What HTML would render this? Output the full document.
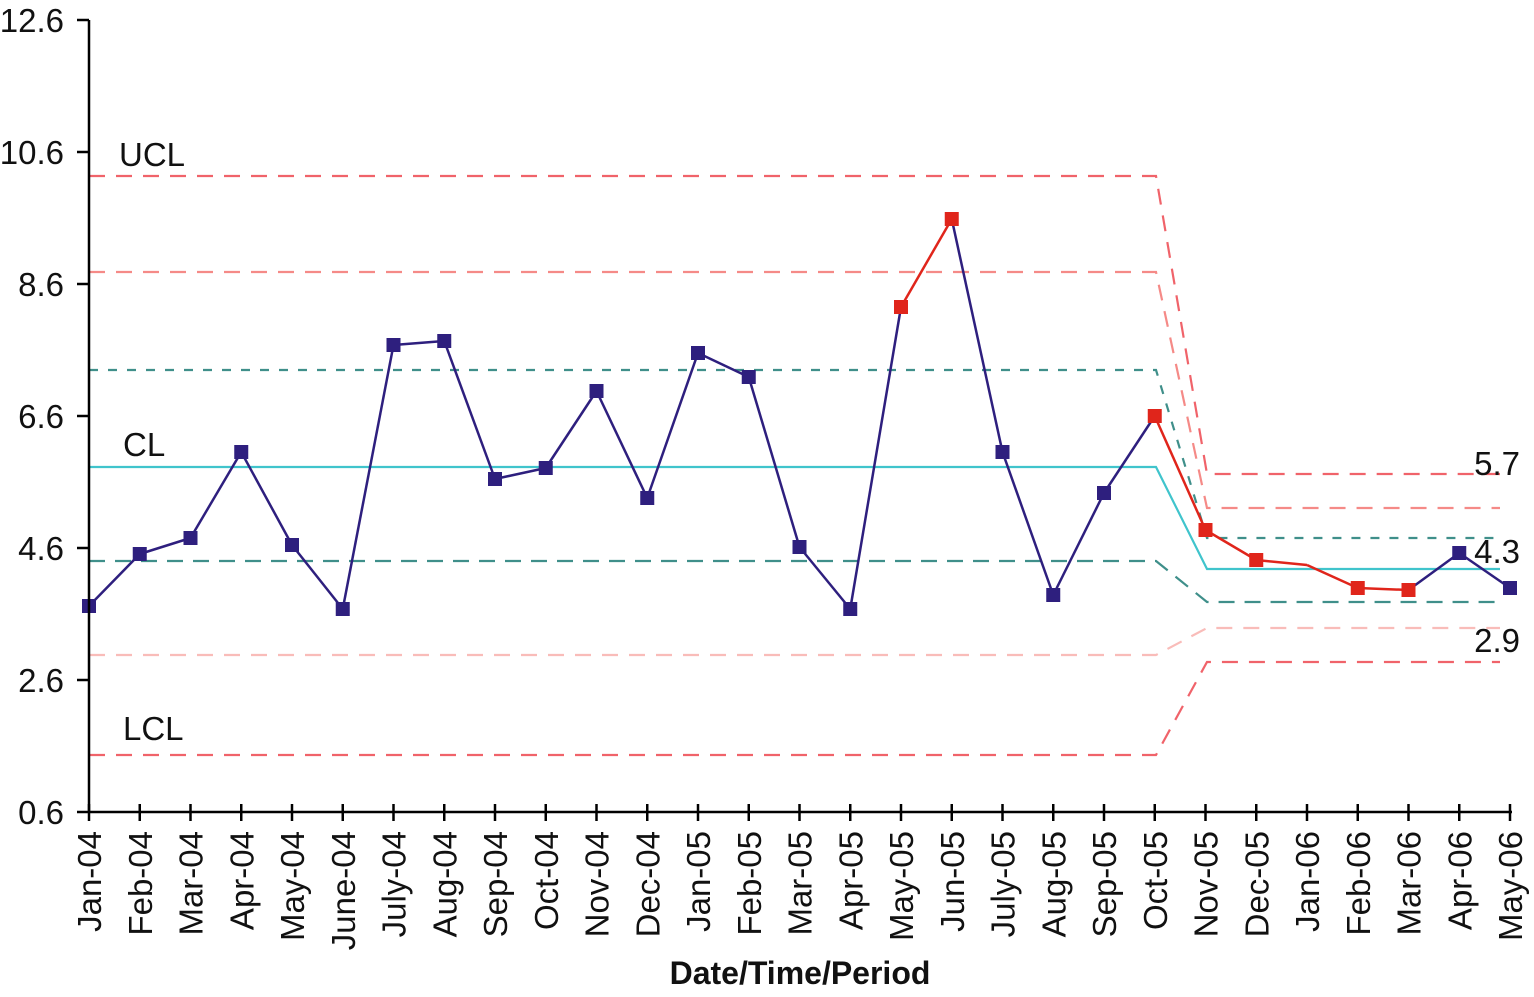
<!DOCTYPE html>
<html><head><meta charset="utf-8"><style>html,body{margin:0;padding:0;background:#fff}</style></head>
<body>
<svg id="c" width="1534" height="992" xmlns="http://www.w3.org/2000/svg" font-family="Liberation Sans, Arial, sans-serif">
<g fill="none" stroke-width="2.2">
<polyline points="89,176 1156,176 1207,474 1500,474" stroke="#f0636a" stroke-dasharray="16,11"/>
<polyline points="89,272 1156,272 1207,508 1500,508" stroke="#f58a87" stroke-dasharray="16,11"/>
<polyline points="89,370 1156,370 1207,538 1500,538" stroke="#3f8f8a" stroke-dasharray="9,10"/>
<polyline points="89,467 1156,467 1207,569 1500,569" stroke="#40c4cc"/>
<polyline points="89,561 1156,561 1207,602 1500,602" stroke="#3f8f8a" stroke-dasharray="16,10"/>
<polyline points="89,655 1156,655 1207,628 1500,628" stroke="#f9bcb9" stroke-dasharray="16,11"/>
<polyline points="89,755 1156,755 1207,662 1500,662" stroke="#f0636a" stroke-dasharray="16,11"/>
</g>
<g id="data"></g>
<g stroke="#000" stroke-width="2.5" fill="none">
<line x1="89" y1="20" x2="89" y2="813"/>
<line x1="88" y1="812" x2="1512" y2="812"/>
</g>
<g id="ax"></g>
<g font-size="33" fill="#111">
<text x="119" y="166">UCL</text>
<text x="123" y="456">CL</text>
<text x="123" y="740">LCL</text>
<text x="1520" y="475" text-anchor="end">5.7</text>
<text x="1520" y="563" text-anchor="end">4.3</text>
<text x="1520" y="652" text-anchor="end">2.9</text>
</g>
<text x="800" y="984" font-size="32" font-weight="bold" text-anchor="middle" fill="#111">Date/Time/Period</text>
</svg>
<script>
var NS="http://www.w3.org/2000/svg";
function el(p,t,a,txt){var e=document.createElementNS(NS,t);for(var k in a)e.setAttribute(k,a[k]);if(txt)e.textContent=txt;p.appendChild(e);return e;}
var X=function(i){return 89+50.75*i;};
var labels=["Jan-04","Feb-04","Mar-04","Apr-04","May-04","June-04","July-04","Aug-04","Sep-04","Oct-04","Nov-04","Dec-04","Jan-05","Feb-05","Mar-05","Apr-05","May-05","Jun-05","July-05","Aug-05","Sep-05","Oct-05","Nov-05","Dec-05","Jan-06","Feb-06","Mar-06","Apr-06","May-06"];
var ys=[606,554,538,452,545,609,345,341,479,468,391,498,353,377,547,609,307,219,452,595,493,416,530,560,565,588,590,553,588];
var red={16:1,17:1,21:1,22:1,23:1,25:1,26:1};
var redSeg={16:1,21:1,22:1,23:1,24:1,25:1};
var ax=document.getElementById("ax"),d=document.getElementById("data");
for(var i=0;i<28;i++){el(d,"line",{x1:X(i),y1:ys[i],x2:X(i+1),y2:ys[i+1],stroke:redSeg[i]?"#e0251b":"#2e1f7e","stroke-width":2.5});}
for(var i=0;i<29;i++){
 if(i!=24) el(d,"rect",{x:X(i)-7,y:ys[i]-7,width:14,height:14,fill:red[i]?"#e0251b":"#2e1f7e"});
 el(ax,"line",{x1:X(i),y1:804,x2:X(i),y2:821,stroke:"#000","stroke-width":2.5});
 el(ax,"text",{x:0,y:0,transform:"translate("+(X(i)+12)+",831) rotate(-90)","text-anchor":"end","font-size":33,fill:"#111"},labels[i]);
}
var yl=["12.6","10.6","8.6","6.6","4.6","2.6","0.6"];
for(var j=0;j<7;j++){var y=20+132*j;
 el(ax,"line",{x1:77,y1:y,x2:89,y2:y,stroke:"#000","stroke-width":2.5});
 el(ax,"text",{x:64,y:y+12,"text-anchor":"end","font-size":33,fill:"#111"},yl[j]);}
</script>
</body></html>
